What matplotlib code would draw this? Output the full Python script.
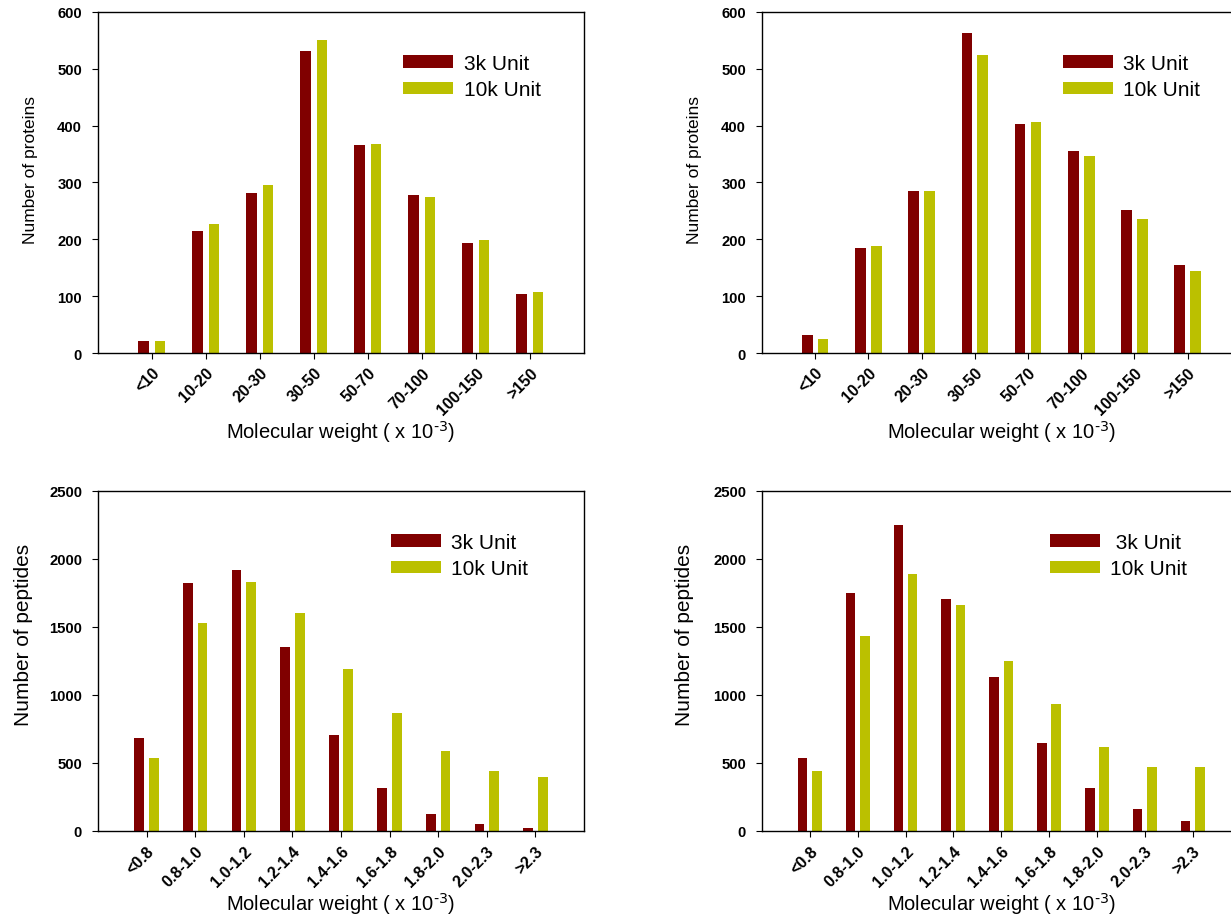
import numpy as np
import matplotlib
matplotlib.use('Agg')
import matplotlib.pyplot as plt

plt.rcParams['font.family'] = ['Liberation Sans', 'DejaVu Sans']
plt.rcParams['mathtext.default'] = 'regular'

# protein size bins (x 10^-3)
protein_bins = ['<10', '10-20', '20-30', '30-50', '50-70', '70-100', '100-150', '>150']
proteins_a_3k = [21, 215, 282, 532, 366, 278, 194, 104]
proteins_a_10k = [22, 227, 296, 551, 368, 275, 199, 107]
proteins_b_3k = [31, 184, 285, 563, 403, 356, 252, 154]
proteins_b_10k = [25, 188, 285, 525, 407, 347, 235, 144]

# peptide size bins (x 10^-3)
peptide_bins = ['<0.8', '0.8-1.0', '1.0-1.2', '1.2-1.4', '1.4-1.6', '1.6-1.8', '1.8-2.0', '2.0-2.3', '>2.3']
peptides_a_3k = [687, 1826, 1922, 1352, 702, 315, 125, 51, 22]
peptides_a_10k = [540, 1531, 1834, 1599, 1193, 866, 589, 440, 396]
peptides_b_3k = [540, 1751, 2252, 1702, 1130, 643, 313, 161, 73]
peptides_b_10k = [440, 1430, 1892, 1658, 1249, 932, 619, 469, 469]

C3K = '#800000'
C10K = '#bbc000'

fig = plt.figure(figsize=(12.31, 9.2), dpi=100)


def panel(rect, cats, v3, v10, ymax, ystep, ylabel, ylab_x, ylab_y, ylab_size,
          xlab_y, leg_xy, lab3='3k Unit'):
    ax = fig.add_axes(rect)
    x = np.arange(len(cats))
    ax.bar(x - 0.15, v3, width=0.2, color=C3K, label=lab3)
    ax.bar(x + 0.15, v10, width=0.2, color=C10K, label='10k Unit')
    ax.set_xlim(-1, len(cats))
    ax.set_ylim(0, ymax)
    ax.set_yticks(np.arange(0, ymax + 1, ystep))
    ax.set_xticks(x)
    ax.set_xticklabels(cats, rotation=45, ha='right', rotation_mode='anchor',
                       fontsize=11.5, fontweight='bold')
    for lab in ax.get_yticklabels():
        lab.set_fontweight('bold')
        lab.set_fontsize(10.7)
    ax.tick_params(direction='out', length=4.5, width=0.8)
    ax.tick_params(axis='y', pad=7)
    ax.tick_params(axis='x', pad=4)
    for s in ax.spines.values():
        s.set_linewidth(1.0)
    ax.set_ylabel(ylabel, fontsize=ylab_size)
    ax.yaxis.set_label_coords(ylab_x, ylab_y)
    ax.set_xlabel(r'Molecular weight ( x 10$^{\text{-3}}$)', fontsize=14.5)
    ax.xaxis.set_label_coords(0.5, xlab_y)
    ax.legend(loc='center left', bbox_to_anchor=leg_xy, frameon=False,
              fontsize=15, handlelength=2.4, handleheight=0.55,
              handletextpad=0.5, labelspacing=0.35, borderpad=0, borderaxespad=0)
    return ax


panel([0.0796, 0.6152, 0.3948, 0.3707], protein_bins, proteins_a_3k, proteins_a_10k,
      600, 100, 'Number of proteins', -0.123, 0.54, 12.5, -0.19, (0.628, 0.81))
panel([0.619, 0.6152, 0.389, 0.3707], protein_bins, proteins_b_3k, proteins_b_10k,
      600, 100, 'Number of proteins', -0.125, 0.54, 12.5, -0.19, (0.628, 0.81))
panel([0.0796, 0.0957, 0.3948, 0.3696], peptide_bins, peptides_a_3k, peptides_a_10k,
      2500, 500, 'Number of peptides', -0.134, 0.58, 15, -0.175, (0.603, 0.81))
panel([0.619, 0.0957, 0.3887, 0.3696], peptide_bins, peptides_b_3k, peptides_b_10k,
      2500, 500, 'Number of peptides', -0.142, 0.58, 15, -0.175, (0.602, 0.81),
      lab3=' 3k Unit')

fig.savefig('out.png', dpi=100)
